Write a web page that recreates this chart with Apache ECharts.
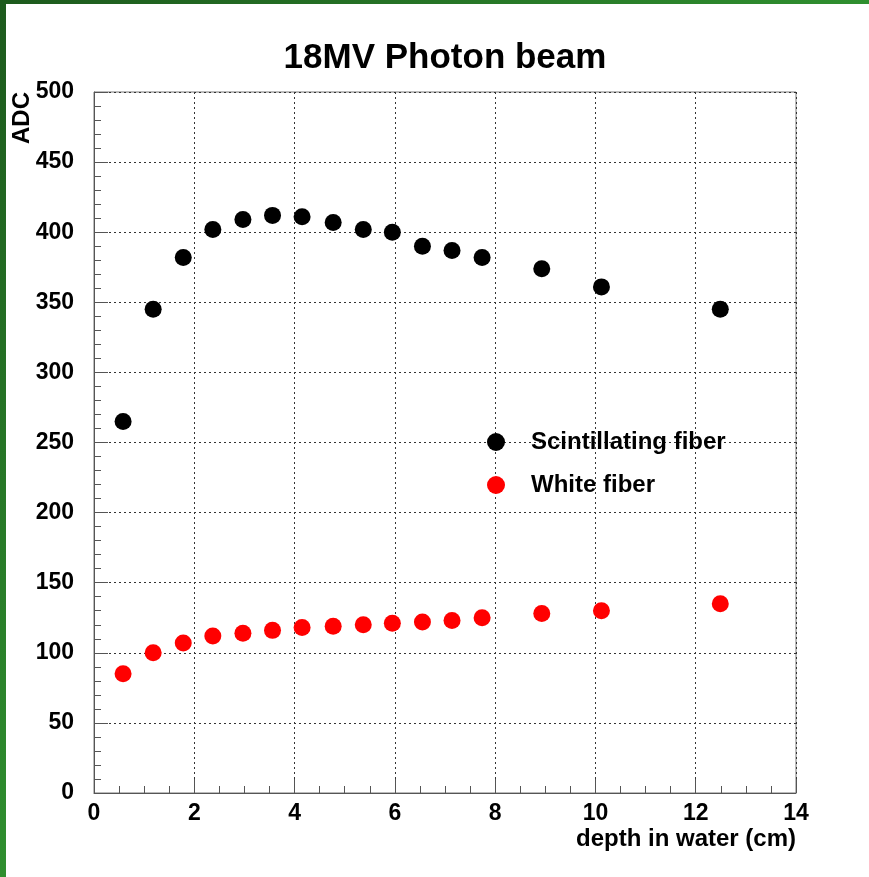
<!DOCTYPE html>
<html><head><meta charset="utf-8">
<script src="https://cdn.jsdelivr.net/npm/echarts@6/dist/echarts.min.js"></script>
<style>
html,body{margin:0;padding:0;background:#fff;}
#wrap{position:relative;width:869px;height:877px;overflow:hidden;background:#fff;}
#top{position:absolute;left:0;top:0;width:869px;height:4px;background:linear-gradient(to right,#1d5a1d,#2f8f2f);z-index:2;}
#left{position:absolute;left:0;top:0;width:6px;height:877px;background:linear-gradient(to bottom,#1d5a1d,#2f8f2f);z-index:2;}
#chart{position:absolute;left:0;top:0;width:869px;height:877px;}
</style></head>
<body><div id="wrap"><div id="top"></div><div id="left"></div><div id="chart"></div></div>
<script>
const depth = [0.58, 1.18, 1.78, 2.37, 2.97, 3.56, 4.15, 4.77, 5.37, 5.95, 6.55, 7.14, 7.74, 8.93, 10.12, 12.49];
const scintillating = [265, 345, 382, 402, 409, 412, 411, 407, 402, 400, 390, 387, 382, 374, 361, 345];
const whiteFiber = [85, 100, 107, 112, 114, 116, 118, 119, 120, 121, 122, 123, 125, 128, 130, 135];
const seriesNames = ['Scintillating fiber', 'White fiber'];
const titleText = '18MV Photon beam';
const xName = 'depth in water (cm)';
const yName = 'ADC';

const FONT = '"Liberation Sans", Arial, sans-serif';
const chart = echarts.init(document.getElementById('chart'));
const pairs = (xs, ys) => xs.map((x, i) => [x, ys[i]]);
chart.setOption({
  animation: false,
  backgroundColor: 'transparent',
  grid: {left: 94, top: 92, right: 73, bottom: 84, show: true, borderColor: '#777', borderWidth: 1},
  xAxis: {
    type: 'value', min: 0, max: 14, interval: 2,
    axisLine: {show: true, lineStyle: {color: '#555', width: 1}},
    axisTick: {show: true, inside: true, length: 14, lineStyle: {color: '#555'}},
    minorTick: {show: true, splitNumber: 4, length: 7, lineStyle: {color: '#555'}},
    splitLine: {show: true, lineStyle: {color: '#333', type: [2, 3], width: 1}},
    axisLabel: {color: '#000', fontFamily: FONT, fontWeight: 'bold', fontSize: 23, margin: 9}
  },
  yAxis: {
    type: 'value', min: 0, max: 500, interval: 50,
    axisLine: {show: true, lineStyle: {color: '#555', width: 1}},
    axisTick: {show: true, inside: true, length: 14, lineStyle: {color: '#555'}},
    minorTick: {show: true, splitNumber: 5, length: 7, lineStyle: {color: '#555'}},
    splitLine: {show: true, lineStyle: {color: '#333', type: [2, 3], width: 1}},
    axisLabel: {color: '#000', fontFamily: FONT, fontWeight: 'bold', fontSize: 23, margin: 20, padding: [3, 0, 0, 0]}
  },
  legend: {
    orient: 'vertical', left: 482, top: 423, itemGap: 15, itemWidth: 18, itemHeight: 18,
    icon: 'circle',
    textStyle: {color: '#000', fontFamily: FONT, fontWeight: 'bold', fontSize: 24, lineHeight: 28, padding: [0, 0, 0, 21]},
    data: seriesNames
  },
  graphic: [
    {type: 'text', x: 445, y: 58, style: {text: titleText, fill: '#000', font: 'bold 35px ' + FONT, textAlign: 'center', textVerticalAlign: 'middle'}},
    {type: 'text', x: 22, y: 118, rotation: Math.PI / 2, style: {text: yName, fill: '#000', font: 'bold 24px ' + FONT, textAlign: 'center', textVerticalAlign: 'middle'}},
    {type: 'text', x: 796, y: 839, style: {text: xName, fill: '#000', font: 'bold 24px ' + FONT, textAlign: 'right', textVerticalAlign: 'middle'}}
  ],
  series: [
    {name: seriesNames[0], type: 'scatter', symbol: 'circle', symbolSize: 17, itemStyle: {color: '#000', opacity: 1}, data: pairs(depth, scintillating)},
    {name: seriesNames[1], type: 'scatter', symbol: 'circle', symbolSize: 17, itemStyle: {color: '#ff0000', opacity: 1}, data: pairs(depth, whiteFiber)}
  ]
});
</script></body></html>
